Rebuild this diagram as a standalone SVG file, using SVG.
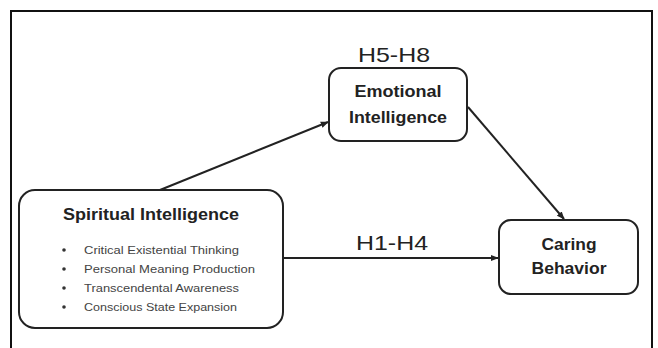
<svg xmlns="http://www.w3.org/2000/svg" width="658" height="348" viewBox="0 0 658 348">
<style>
.box{fill:#fff;stroke:#222;stroke-width:2}
.t{font-family:"Liberation Sans",Arial,sans-serif;fill:#222;text-anchor:middle}
.b{font-weight:bold}
.li{font-family:"Liberation Sans",Arial,sans-serif;fill:#444;font-size:11.5px}
.edge{stroke:#222;stroke-width:2;fill:none;marker-end:url(#ah)}
</style>
<defs>
<marker id="ah" viewBox="0 0 10 10" refX="9" refY="5" markerWidth="4" markerHeight="4" orient="auto" markerUnits="strokeWidth">
<path d="M0,1 L10,5 L0,9 z" fill="#222"/>
</marker>
</defs>
<rect x="0" y="0" width="658" height="348" fill="#fff"/>
<path d="M11,352 V11 H652 V352" fill="none" stroke="#111" stroke-width="2"/>
<g id="connectors">
<line class="edge" x1="160" y1="190" x2="328" y2="122"/>
<line class="edge" x1="468" y1="107" x2="564" y2="219"/>
<line class="edge" x1="283" y1="258" x2="498" y2="258"/>
<text class="t" x="394" y="62" font-size="21" textLength="72" lengthAdjust="spacingAndGlyphs">H5-H8</text>
<text class="t" x="392" y="250" font-size="21" textLength="72" lengthAdjust="spacingAndGlyphs">H1-H4</text>
</g>
<g id="spiritual">
<rect class="box" x="19" y="190" width="264" height="138" rx="16"/>
<text class="t b" x="151" y="220" font-size="16.5" textLength="176" lengthAdjust="spacingAndGlyphs">Spiritual Intelligence</text>
<g fill="#333">
<circle cx="64" cy="250" r="1.8"/><circle cx="64" cy="269" r="1.8"/><circle cx="64" cy="288" r="1.8"/><circle cx="64" cy="307" r="1.8"/>
</g>
<text class="li" x="84" y="254" textLength="155" lengthAdjust="spacingAndGlyphs">Critical Existential Thinking</text>
<text class="li" x="84" y="273" textLength="171" lengthAdjust="spacingAndGlyphs">Personal Meaning Production</text>
<text class="li" x="84" y="292" textLength="155" lengthAdjust="spacingAndGlyphs">Transcendental Awareness</text>
<text class="li" x="84" y="311" textLength="153" lengthAdjust="spacingAndGlyphs">Conscious State Expansion</text>
</g>
<g id="emotional">
<rect class="box" x="329" y="68" width="138" height="73" rx="12"/>
<text class="t b" x="398" y="97" font-size="16" textLength="87" lengthAdjust="spacingAndGlyphs">Emotional</text>
<text class="t b" x="398" y="123" font-size="16" textLength="98" lengthAdjust="spacingAndGlyphs">Intelligence</text>
</g>
<g id="caring">
<rect class="box" x="499" y="220" width="139" height="74" rx="12"/>
<text class="t b" x="569" y="250" font-size="16" textLength="55" lengthAdjust="spacingAndGlyphs">Caring</text>
<text class="t b" x="569" y="274" font-size="16" textLength="75" lengthAdjust="spacingAndGlyphs">Behavior</text>
</g>
</svg>
